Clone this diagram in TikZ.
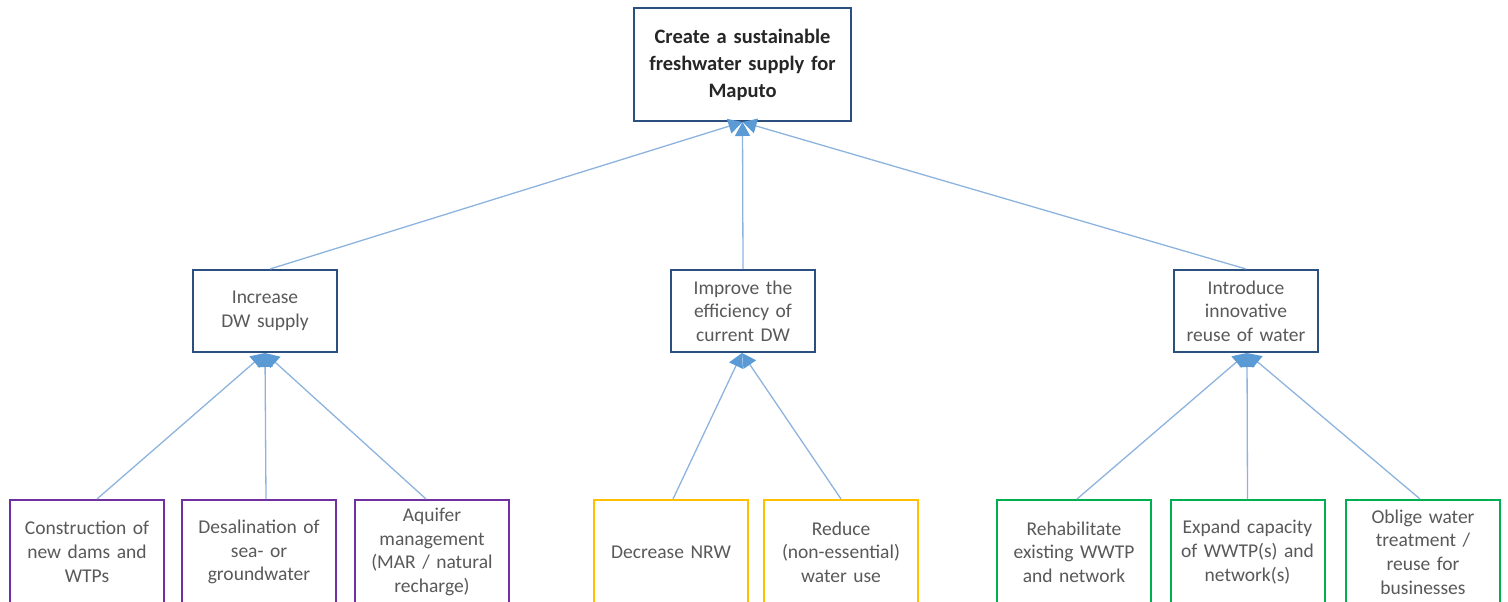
\documentclass[tikz,border=0pt]{standalone}
\usepackage{fontspec}
\setmainfont{Carlito}
\usetikzlibrary{arrows.meta}
\definecolor{goalblue}{HTML}{2B4F7E}
\definecolor{linkblue}{HTML}{8DB3DF}
\definecolor{tipblue}{HTML}{5B9BD5}
\definecolor{txtgray}{HTML}{595959}
\definecolor{txtdark}{HTML}{262626}
\definecolor{purp}{HTML}{7030A0}
\definecolor{ambr}{HTML}{FFC000}
\definecolor{grn}{HTML}{00B050}
\begin{document}
\begin{tikzpicture}[x=1pt,y=-1pt,
  basebox/.style={fill=white, line width=2pt, align=center, inner sep=0pt, text=txtgray,
    font=\fontsize{19.5}{23.7}\selectfont},
  goalbox/.style={basebox, draw=goalblue, minimum width=217pt, minimum height=113pt,
    text width=210pt, text=txtdark, font=\fontsize{20.5}{27}\selectfont\bfseries},
  subbox/.style={basebox, draw=goalblue, minimum width=144pt, minimum height=82pt, text width=138pt},
  leafbox/.style={basebox, minimum width=154pt, minimum height=104pt, text width=146pt},
  purpbox/.style={leafbox, draw=purp},
  ambrbox/.style={leafbox, draw=ambr},
  grnbox/.style={leafbox, draw=grn},
  conn/.style={draw=linkblue, line width=1.3pt,
    -{Triangle[width=15pt,length=14pt,color=tipblue]}}
]
\useasboundingbox (0,0) rectangle (1508,602);
\clip (0,0) rectangle (1508,602);

% goal
\node[goalbox] (top) at (742.5,64.5) {Create a sustainable\\freshwater supply for\\Maputo};

% sub-goals
\node[subbox] (m1) at (265,311) {Increase\\DW supply};
\node[subbox] (m2) at (743,311) {Improve the\\efficiency of\\current DW};
\node[subbox] (m3) at (1246,311) {Introduce\\innovative\\reuse of water};

% measures
\node[purpbox] (b1) at (87,552) {Construction of\\new dams and\\WTPs};
\node[purpbox] (b2) at (259,552) {Desalination of\\sea- or\\groundwater};
\node[purpbox] (b3) at (432,552) {Aquifer\\management\\(MAR / natural\\recharge)};
\node[ambrbox] (b4) at (671,552) {Decrease NRW};
\node[ambrbox] (b5) at (841,552) {Reduce\\(non-essential)\\water use};
\node[grnbox] (b6) at (1074,552) {Rehabilitate\\existing WWTP\\and network};
\node[grnbox] (b7) at (1247.5,552) {Expand capacity\\of WWTP(s) and\\network(s)};
\node[grnbox] (b8) at (1423,552) {Oblige water\\treatment /\\reuse for\\businesses};

% links to the goal
\draw[conn] ([xshift=5pt]m1.north) -- (top.south);
\draw[conn] (m2.north) -- (top.south);
\draw[conn] (m3.north) -- (top.south);

% links to the sub-goals
\draw[conn] ([xshift=10pt]b1.north) -- (m1.south);
\draw[conn] ([xshift=7pt]b2.north) -- (m1.south);
\draw[conn] ([xshift=-6pt]b3.north) -- (m1.south);
\draw[conn] ([xshift=2pt]b4.north) -- ([xshift=-1pt]m2.south);
\draw[conn] (b5.north) -- ([xshift=-1pt]m2.south);
\draw[conn] ([xshift=3pt]b6.north) -- ([xshift=1pt]m3.south);
\draw[conn] (b7.north) -- ([xshift=1pt]m3.south);
\draw[conn] ([xshift=-3pt]b8.north) -- ([xshift=1pt]m3.south);
\end{tikzpicture}
\end{document}
